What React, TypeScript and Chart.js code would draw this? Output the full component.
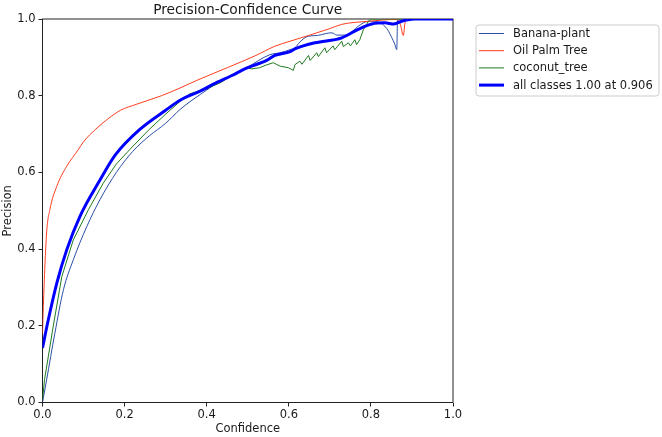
import React, { useEffect, useRef } from 'react';
import { Chart, registerables } from 'chart.js';

Chart.register(...registerables);

// ---------- data ----------
const seriesLabels = ['Banana-plant', 'Oil Palm Tree', 'coconut_tree', 'all classes 1.00 at 0.906'];
const xTickLabels = ['0.0', '0.2', '0.4', '0.6', '0.8', '1.0'];
const yTickLabels = ['0.0', '0.2', '0.4', '0.6', '0.8', '1.0'];

const bananaConf = [0, 0.01, 0.03, 0.051, 0.075, 0.108, 0.14, 0.18, 0.22, 0.26, 0.3, 0.335, 0.384, 0.44, 0.497, 0.554, 0.579, 0.603, 0.615, 0.627, 0.647, 0.67, 0.69, 0.705, 0.717, 0.74, 0.755, 0.769, 0.794, 0.81, 0.822, 0.834, 0.843, 0.851, 0.858, 0.863, 0.865, 1.0];
const bananaPrec = [0, 0.059, 0.18, 0.294, 0.372, 0.459, 0.529, 0.6, 0.655, 0.695, 0.728, 0.764, 0.803, 0.842, 0.873, 0.907, 0.912, 0.92, 0.925, 0.94, 0.955, 0.957, 0.962, 0.964, 0.958, 0.958, 0.968, 0.981, 0.994, 0.994, 0.99, 0.981, 0.968, 0.951, 0.935, 0.92, 1.0, 1.0];

const oilConf = [0, 0.002, 0.01, 0.018, 0.0345, 0.059, 0.087, 0.1, 0.13, 0.16, 0.19, 0.23, 0.29, 0.335, 0.376, 0.45, 0.52, 0.566, 0.603, 0.648, 0.7, 0.729, 0.794, 0.866, 0.872, 0.879, 0.883, 0.886, 1.0];
const oilPrec = [0.18, 0.25, 0.442, 0.503, 0.563, 0.616, 0.659, 0.68, 0.713, 0.74, 0.762, 0.778, 0.8, 0.82, 0.84, 0.873, 0.905, 0.929, 0.942, 0.957, 0.975, 0.986, 0.994, 0.999, 0.985, 0.957, 0.99, 1.0, 1.0];

const coconutConf = [0, 0.005, 0.026, 0.047, 0.075, 0.112, 0.148, 0.18, 0.213, 0.26, 0.3, 0.335, 0.359, 0.38, 0.4, 0.416, 0.43, 0.44, 0.457, 0.47, 0.497, 0.51, 0.529, 0.545, 0.562, 0.579, 0.599, 0.611, 0.615, 0.627, 0.632, 0.648, 0.652, 0.668, 0.672, 0.688, 0.692, 0.708, 0.712, 0.729, 0.733, 0.745, 0.75, 0.761, 0.765, 0.773, 0.782, 0.794, 0.8, 1.0];
const coconutPrec = [0.007, 0.06, 0.198, 0.328, 0.424, 0.503, 0.572, 0.622, 0.66, 0.712, 0.752, 0.785, 0.805, 0.812, 0.818, 0.826, 0.832, 0.838, 0.851, 0.856, 0.873, 0.87, 0.873, 0.88, 0.886, 0.877, 0.873, 0.866, 0.881, 0.89, 0.882, 0.905, 0.892, 0.912, 0.902, 0.925, 0.912, 0.93, 0.92, 0.942, 0.928, 0.938, 0.93, 0.946, 0.933, 0.946, 0.973, 0.994, 1.0, 1.0];

const allConf = [0, 0.014, 0.035, 0.059, 0.091, 0.14, 0.177, 0.237, 0.3, 0.335, 0.384, 0.416, 0.46, 0.497, 0.546, 0.566, 0.603, 0.615, 0.664, 0.729, 0.769, 0.802, 0.834, 0.856, 0.875, 0.89, 0.906, 1.0];
const allPrec = [0.142, 0.215, 0.312, 0.398, 0.485, 0.58, 0.645, 0.712, 0.762, 0.788, 0.812, 0.83, 0.852, 0.872, 0.892, 0.905, 0.915, 0.922, 0.938, 0.951, 0.973, 0.987, 0.99, 0.987, 0.994, 0.998, 1.0, 1.0];

const chartTitle = 'Precision-Confidence Curve';
const xTitle = 'Confidence';
const yTitle = 'Precision';

// ---------- helpers ----------
const zip = (xs: number[], ys: number[]) => xs.map((x, i) => ({ x, y: ys[i] }));
const FONT = "'DejaVu Sans', sans-serif";
const TEXT = '#1a1a1a';

const decorPlugin = {
  id: 'decor',
  beforeDatasetsDraw(chart: any) {
    const { ctx, chartArea: a } = chart;
    ctx.save();
    ctx.strokeStyle = '#222';
    ctx.lineWidth = 1;
    ctx.strokeRect(a.left, a.top, a.right - a.left, a.bottom - a.top);
    ctx.restore();
  },
  afterDraw(chart: any) {
    const { ctx, chartArea: a } = chart;
    ctx.save();
    // title
    ctx.fillStyle = TEXT;
    ctx.font = `13.8px ${FONT}`;
    ctx.textAlign = 'center';
    ctx.textBaseline = 'alphabetic';
    ctx.fillText(chartTitle, (a.left + a.right) / 2, 13.5);

    // legend
    const lx = 476, ly = 25, lw = 183, lh = 71, r = 3;
    ctx.beginPath();
    ctx.moveTo(lx + r, ly);
    ctx.lineTo(lx + lw - r, ly);
    ctx.quadraticCurveTo(lx + lw, ly, lx + lw, ly + r);
    ctx.lineTo(lx + lw, ly + lh - r);
    ctx.quadraticCurveTo(lx + lw, ly + lh, lx + lw - r, ly + lh);
    ctx.lineTo(lx + r, ly + lh);
    ctx.quadraticCurveTo(lx, ly + lh, lx, ly + lh - r);
    ctx.lineTo(lx, ly + r);
    ctx.quadraticCurveTo(lx, ly, lx + r, ly);
    ctx.closePath();
    ctx.fillStyle = 'rgba(255,255,255,0.8)';
    ctx.fill();
    ctx.strokeStyle = '#cccccc';
    ctx.lineWidth = 1;
    ctx.stroke();

    ctx.font = `11.5px ${FONT}`;
    ctx.textAlign = 'left';
    ctx.textBaseline = 'middle';
    chart.data.datasets.forEach((ds: any, i: number) => {
      const y = 33.5 + i * 17.2;
      ctx.beginPath();
      ctx.strokeStyle = ds.borderColor;
      ctx.lineWidth = ds.borderWidth;
      ctx.moveTo(479, y);
      ctx.lineTo(504, y);
      ctx.stroke();
      ctx.fillStyle = TEXT;
      ctx.fillText(ds.label, 513, y + 0.5);
    });
    ctx.restore();
  },
};

export default function App() {
  const ref = useRef<HTMLCanvasElement | null>(null);

  useEffect(() => {
    document.body.style.margin = '0';
    if (!ref.current) return;
    Chart.defaults.font.family = FONT;
    Chart.defaults.font.size = 11.5;
    Chart.defaults.color = TEXT;

    const common = { pointRadius: 0, pointHoverRadius: 0, fill: false, clip: 0, cubicInterpolationMode: 'monotone' as const };

    const chart = new Chart(ref.current, {
      type: 'line',
      data: {
        datasets: [
          { ...common, label: seriesLabels[0], data: zip(bananaConf, bananaPrec), borderColor: '#2b4fa6', borderWidth: 1, order: 3 },
          { ...common, label: seriesLabels[1], data: zip(oilConf, oilPrec), borderColor: '#ff3d1f', borderWidth: 1, order: 2 },
          { ...common, label: seriesLabels[2], data: zip(coconutConf, coconutPrec), borderColor: '#1f7a1f', borderWidth: 1, order: 1, cubicInterpolationMode: 'default', tension: 0 },
          { ...common, label: seriesLabels[3], data: zip(allConf, allPrec), borderColor: '#0000ff', borderWidth: 3, order: 0 },
        ],
      },
      plugins: [decorPlugin],
      options: {
        animation: false,
        responsive: false,
        events: [],
        layout: { padding: { top: 19, right: 209, bottom: 0, left: 0 } },
        plugins: { legend: { display: false }, title: { display: false }, tooltip: { enabled: false } },
        scales: {
          x: {
            type: 'linear',
            min: 0,
            max: 1,
            border: { display: false },
            grid: { display: true, drawOnChartArea: false, drawTicks: true, tickLength: 4, color: '#222' },
            ticks: { stepSize: 0.2, padding: 2, maxRotation: 0, autoSkip: false, callback: (_v: any, i: number) => xTickLabels[i] },
            title: { display: true, text: xTitle, padding: { top: 0, bottom: 1 }, font: { size: 11.5 } },
            afterFit: (s: any) => { s.height = 34.5; },
          },
          y: {
            type: 'linear',
            min: 0,
            max: 1,
            border: { display: false },
            grid: { display: true, drawOnChartArea: false, drawTicks: true, tickLength: 4, color: '#222' },
            ticks: { stepSize: 0.2, padding: 3, autoSkip: false, callback: (_v: any, i: number) => yTickLabels[i] },
            title: { display: true, text: yTitle, padding: { top: 1, bottom: 0 }, font: { size: 11.5 } },
            afterFit: (s: any) => { s.width = 42.5; },
          },
        },
      },
    });
    return () => chart.destroy();
  }, []);

  return (
    <div style={{ width: 662, height: 437, background: '#fff' }}>
      <canvas ref={ref} width={662} height={437} style={{ display: 'block' }} />
    </div>
  );
}
